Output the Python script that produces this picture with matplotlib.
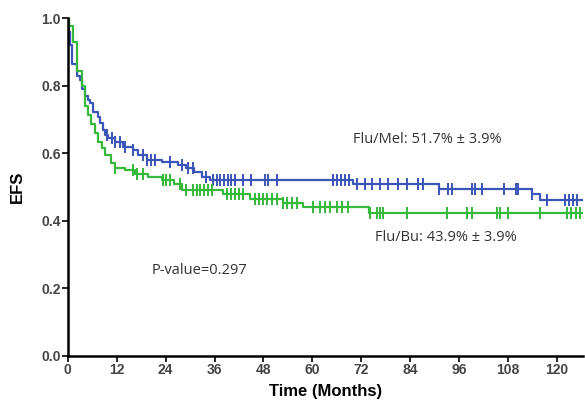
import numpy as np
import matplotlib.pyplot as plt

# ------------------------- Data -------------------------
mel_t = [0, 0.3, 0.6, 1.0, 2.2, 3.0, 3.4, 4.2, 4.9, 5.4, 6.2, 7.4, 7.9, 8.6, 9.1,
         9.8, 11.5, 13.5, 16, 17.2, 19.4, 23, 27, 29, 31, 33, 35, 70, 91, 114, 116]
mel_s = [1.0, 0.96, 0.92, 0.864, 0.83, 0.816, 0.79, 0.77, 0.757, 0.748, 0.723,
         0.708, 0.689, 0.669, 0.654, 0.645, 0.634, 0.619, 0.609, 0.595, 0.58,
         0.575, 0.565, 0.555, 0.545, 0.53, 0.52, 0.509, 0.495, 0.48, 0.463]
mel_cens = [9.6, 10.8, 11.5, 12.8, 14, 16, 18.4, 19.5, 20.5, 21.4, 25, 28, 29.5,
            30.7, 34, 35.6, 36.5, 37.4, 38.3, 39.2, 40.1, 41, 43, 45, 48.4, 49.2,
            51.3, 65, 66, 67, 68, 69, 71, 73, 74.7, 76.7, 78.6, 81, 83.3, 86, 87.2,
            91, 93.4, 94.4, 99.3, 100, 101.7, 107, 110, 110.6, 114, 117.7, 122,
            123, 124, 125]

bu_t = [0, 0.3, 1.2, 2.2, 3.4, 4.2, 5.0, 5.8, 6.6, 7.4, 8.3, 9.1, 10.7, 11.5,
        14, 16.5, 19.7, 23, 26, 28, 38, 44.7, 52.8, 57.7, 74]
bu_s = [1.0, 0.977, 0.928, 0.844, 0.80, 0.74, 0.713, 0.688, 0.66, 0.634, 0.615,
        0.595, 0.571, 0.556, 0.55, 0.54, 0.53, 0.52, 0.51, 0.49, 0.478, 0.465,
        0.452, 0.442, 0.424]
bu_cens = [11.5, 16, 17, 18.4, 23.4, 24.2, 25, 27.5, 29, 30.7, 31.6, 32.5, 33.4,
           34.3, 35.4, 39, 40, 41, 42, 43, 46, 47, 48, 49, 50, 51.3, 52.8, 53.8,
           55, 56.3, 60.2, 62, 63, 64.4, 66, 67.3, 68.8, 74.2, 76, 76.7, 77.4,
           83.3, 93, 98, 99.3, 105.4, 106, 108, 116, 122.6, 123.6, 124.6, 125.6]

t_end = 126.5
BLUE = '#3b55b8'
GREEN = '#36b83a'


def surv_at(times, surv, pts):
    idx = np.searchsorted(times, pts, side='right') - 1
    return np.asarray(surv)[idx]


# ------------------------- Plot -------------------------
fig = plt.figure(figsize=(5.85, 4.04), dpi=100)
ax = fig.add_axes([0.116, 0.119, 0.881, 0.836])

for t, s, cens, col in [(mel_t, mel_s, mel_cens, BLUE), (bu_t, bu_s, bu_cens, GREEN)]:
    tt = list(t) + [t_end]
    ss = list(s) + [s[-1]]
    ax.step(tt, ss, where='post', color=col, lw=1.6)
    ax.plot(cens, surv_at(t, s, cens), ls='none', marker='|', ms=9, mew=1.4, color=col)

ax.set_xlim(0, t_end)
ax.set_ylim(0, 1.0)
ax.set_xticks(np.arange(0, 121, 12))
ax.set_yticks(np.arange(0, 1.01, 0.2))
ax.set_yticklabels([f'{v:.1f}' for v in np.arange(0, 1.01, 0.2)])
ax.spines['top'].set_visible(False)
ax.spines['right'].set_visible(False)
ax.spines['left'].set_linewidth(1.8)
ax.spines['bottom'].set_linewidth(1.8)
ax.tick_params(direction='out', length=4, width=1.2, labelsize=10,
               labelcolor='#444444', pad=1)
for lab in ax.get_xticklabels() + ax.get_yticklabels():
    lab.set_fontweight('bold')
    lab.set_family('Liberation Sans')

ax.set_xlabel('Time (Months)', fontsize=12, fontweight='bold', family='Liberation Sans', labelpad=5)
ax.set_ylabel('EFS', fontsize=12, fontweight='bold', family='Liberation Sans', labelpad=12)

ax.text(88.2, 0.64, 'Flu/Mel: 51.7% ± 3.9%', ha='center', va='center',
        fontsize=10.5, color='#333333', family='Open Sans')
ax.text(92.9, 0.352, 'Flu/Bu: 43.9% ± 3.9%', ha='center', va='center',
        fontsize=10.5, color='#333333', family='Open Sans')
ax.text(32.2, 0.254, 'P-value=0.297', ha='center', va='center',
        fontsize=10.5, color='#333333', family='Open Sans')

fig.savefig('out.png', dpi=100)
